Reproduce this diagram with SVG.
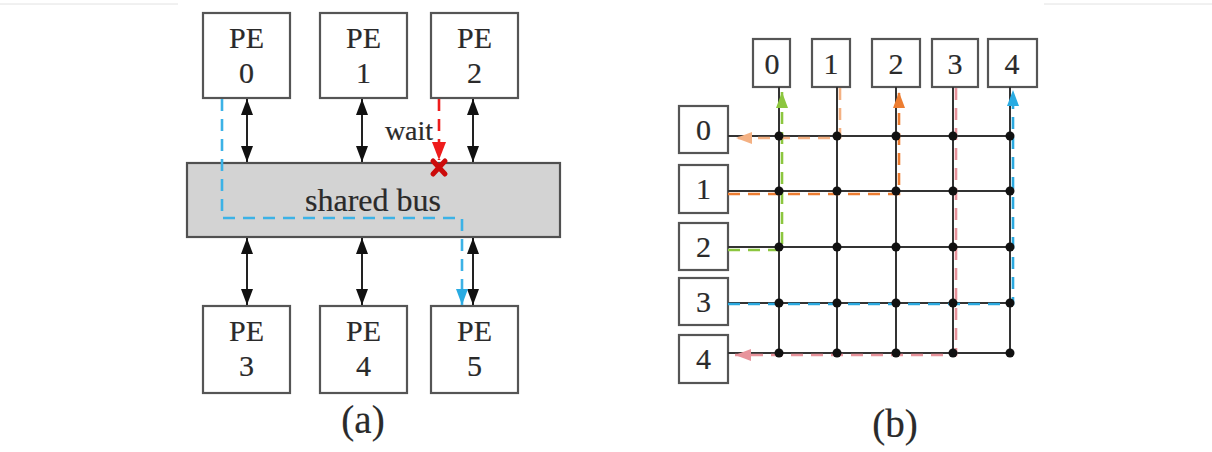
<svg xmlns="http://www.w3.org/2000/svg" width="1212" height="452" viewBox="0 0 1212 452">
  <style>
    .box { fill: #ffffff; stroke: #555555; stroke-width: 2.2; }
    .bus { fill: #d3d3d3; stroke: #505050; stroke-width: 2.2; }
    .lbl { font-family: "Liberation Serif", "Times New Roman", serif; fill: #2a2a2a; stroke: #2a2a2a; stroke-width: 0.2; text-anchor: middle; }
    .pe { font-size: 30px; }
    .num { font-size: 30px; }
    .cap { font-size: 39px; }
    .link { stroke: #222222; stroke-width: 2; fill: none; }
    .grid { stroke: #333333; stroke-width: 2; fill: none; }
    .dot { fill: #111111; }
    .route { fill: none; stroke-width: 2.6; stroke-dasharray: 12 8; }
  </style>
  <defs>
    <marker id="ah" viewBox="0 0 16 12" refX="16" refY="6" markerWidth="16" markerHeight="12" markerUnits="userSpaceOnUse" orient="auto-start-reverse">
      <path d="M0,0 L16,6 L0,12 Z" fill="#111111"/>
    </marker>
    <marker id="ah-blue" viewBox="0 0 16 12" refX="16" refY="6" markerWidth="16" markerHeight="12" markerUnits="userSpaceOnUse" orient="auto">
      <path d="M0,0 L16,6 L0,12 Z" fill="#29abe2"/>
    </marker>
    <marker id="ah-red" viewBox="0 0 18 14" refX="18" refY="7" markerWidth="18" markerHeight="14" markerUnits="userSpaceOnUse" orient="auto">
      <path d="M0,0 L18,7 L0,14 Z" fill="#ee1c1c"/>
    </marker>
    <marker id="ah-green" viewBox="0 0 16 12" refX="16" refY="6" markerWidth="16" markerHeight="12" markerUnits="userSpaceOnUse" orient="auto">
      <path d="M0,0 L16,6 L0,12 Z" fill="#8cc63f"/>
    </marker>
    <marker id="ah-orange" viewBox="0 0 16 12" refX="16" refY="6" markerWidth="16" markerHeight="12" markerUnits="userSpaceOnUse" orient="auto">
      <path d="M0,0 L16,6 L0,12 Z" fill="#ed7d31"/>
    </marker>
    <marker id="ah-peach" viewBox="0 0 16 12" refX="16" refY="6" markerWidth="16" markerHeight="12" markerUnits="userSpaceOnUse" orient="auto">
      <path d="M0,0 L16,6 L0,12 Z" fill="#f4b183"/>
    </marker>
    <marker id="ah-pink" viewBox="0 0 16 12" refX="16" refY="6" markerWidth="16" markerHeight="12" markerUnits="userSpaceOnUse" orient="auto">
      <path d="M0,0 L16,6 L0,12 Z" fill="#e8939c"/>
    </marker>
  </defs>

  <rect x="0" y="0" width="1212" height="452" fill="#ffffff"/>
  <!-- faint page rules at the top edge -->
  <line x1="0" y1="4" x2="178" y2="4" stroke="#e2e2e2" stroke-width="1"/>
  <line x1="1044" y1="4" x2="1212" y2="4" stroke="#e2e2e2" stroke-width="1"/>

  <!-- ===== (a) shared bus ===== -->
  <g id="bus">
    <rect class="bus" x="187" y="163" width="373" height="74"/>
    <text class="lbl" x="373" y="211" font-size="32">shared bus</text>
  </g>
  <g id="pe0"><rect class="box" x="203" y="13" width="87" height="85"/><text class="lbl pe" x="246.5" y="48">PE</text><text class="lbl pe" x="246.5" y="83">0</text></g>
  <g id="pe1"><rect class="box" x="320" y="13" width="87" height="85"/><text class="lbl pe" x="363.5" y="48">PE</text><text class="lbl pe" x="363.5" y="83">1</text></g>
  <g id="pe2"><rect class="box" x="431" y="13" width="87" height="85"/><text class="lbl pe" x="474.5" y="48">PE</text><text class="lbl pe" x="474.5" y="83">2</text></g>
  <g id="pe3"><rect class="box" x="203" y="306" width="87" height="87"/><text class="lbl pe" x="246.5" y="341">PE</text><text class="lbl pe" x="246.5" y="376">3</text></g>
  <g id="pe4"><rect class="box" x="320" y="306" width="87" height="87"/><text class="lbl pe" x="363.5" y="341">PE</text><text class="lbl pe" x="363.5" y="376">4</text></g>
  <g id="pe5"><rect class="box" x="431" y="306" width="87" height="87"/><text class="lbl pe" x="474.5" y="341">PE</text><text class="lbl pe" x="474.5" y="376">5</text></g>

  <g id="bus-connectors">
    <line class="link" x1="247" y1="99" x2="247" y2="162" marker-start="url(#ah)" marker-end="url(#ah)"/>
    <line class="link" x1="362" y1="99" x2="362" y2="162" marker-start="url(#ah)" marker-end="url(#ah)"/>
    <line class="link" x1="473" y1="99" x2="473" y2="162" marker-start="url(#ah)" marker-end="url(#ah)"/>
    <line class="link" x1="247" y1="238" x2="247" y2="305" marker-start="url(#ah)" marker-end="url(#ah)"/>
    <line class="link" x1="362" y1="238" x2="362" y2="305" marker-start="url(#ah)" marker-end="url(#ah)"/>
    <line class="link" x1="473" y1="238" x2="473" y2="305" marker-start="url(#ah)" marker-end="url(#ah)"/>
    <!-- PE0 to PE5 transfer through the bus -->
    <path class="route" stroke="#3cb2e6" d="M222,99 V218 H462 V305" marker-end="url(#ah-blue)"/>
    <!-- PE2 request blocked -->
    <path class="route" stroke="#ee1c1c" stroke-dasharray="10 7" d="M439,99 V160" marker-end="url(#ah-red)"/>
    <text class="lbl" x="409" y="140" font-size="28">wait</text>
    <g stroke="#cc0b0b" stroke-width="5" stroke-linecap="round">
      <line x1="433" y1="161" x2="445" y2="174"/>
      <line x1="445" y1="161" x2="433" y2="174"/>
    </g>
  </g>
  <text class="lbl cap" x="363" y="433">(a)</text>

  <!-- ===== (b) crossbar ===== -->
  <g id="col0"><rect class="box" x="753" y="39" width="37" height="48"/><text class="lbl num" x="772" y="74">0</text></g>
  <g id="col1"><rect class="box" x="812" y="39" width="38" height="48"/><text class="lbl num" x="831" y="74">1</text></g>
  <g id="col2"><rect class="box" x="872" y="39" width="48" height="48"/><text class="lbl num" x="896" y="74">2</text></g>
  <g id="col3"><rect class="box" x="932" y="39" width="46" height="48"/><text class="lbl num" x="955" y="74">3</text></g>
  <g id="col4"><rect class="box" x="988" y="39" width="49" height="48"/><text class="lbl num" x="1012" y="74">4</text></g>
  <g id="row0"><rect class="box" x="679" y="106" width="49" height="47"/><text class="lbl num" x="703.5" y="140">0</text></g>
  <g id="row1"><rect class="box" x="679" y="165" width="49" height="48"/><text class="lbl num" x="703.5" y="199">1</text></g>
  <g id="row2"><rect class="box" x="679" y="223" width="49" height="47"/><text class="lbl num" x="703.5" y="257">2</text></g>
  <g id="row3"><rect class="box" x="679" y="278" width="49" height="47"/><text class="lbl num" x="703.5" y="312">3</text></g>
  <g id="row4"><rect class="box" x="679" y="335" width="49" height="48"/><text class="lbl num" x="703.5" y="369">4</text></g>

  <g id="crossbar-connectors">
    <!-- grid wires -->
    <path class="grid" d="M728,136 H1010 M728,191 H1010 M728,247 H1010 M728,303 H1010 M728,353 H1010"/>
    <path class="grid" d="M779,87 V353 M837,87 V353 M896,87 V353 M953,87 V353 M1010,87 V353"/>

    <!-- routes through the crossbar -->
    <path class="route" stroke="#8cc63f" d="M728,250 H782 V92" marker-end="url(#ah-green)"/>
    <path class="route" stroke="#f4b183" d="M840,88 V138 H736" marker-end="url(#ah-peach)"/>
    <path class="route" stroke="#ed7d31" d="M728,194 H899 V92" marker-end="url(#ah-orange)"/>
    <path class="route" stroke="#2aa9e0" d="M728,304 H1013 V90" marker-end="url(#ah-blue)"/>
    <path class="route" stroke="#e8939c" d="M956,88 V355 H735" marker-end="url(#ah-pink)"/>

    <!-- crosspoints -->
    <g class="dot">
      <circle cx="779" cy="136" r="4.5"/><circle cx="837" cy="136" r="4.5"/><circle cx="896" cy="136" r="4.5"/><circle cx="953" cy="136" r="4.5"/><circle cx="1010" cy="136" r="4.5"/>
      <circle cx="779" cy="191" r="4.5"/><circle cx="837" cy="191" r="4.5"/><circle cx="896" cy="191" r="4.5"/><circle cx="953" cy="191" r="4.5"/><circle cx="1010" cy="191" r="4.5"/>
      <circle cx="779" cy="247" r="4.5"/><circle cx="837" cy="247" r="4.5"/><circle cx="896" cy="247" r="4.5"/><circle cx="953" cy="247" r="4.5"/><circle cx="1010" cy="247" r="4.5"/>
      <circle cx="779" cy="303" r="4.5"/><circle cx="837" cy="303" r="4.5"/><circle cx="896" cy="303" r="4.5"/><circle cx="953" cy="303" r="4.5"/><circle cx="1010" cy="303" r="4.5"/>
      <circle cx="779" cy="353" r="4.5"/><circle cx="837" cy="353" r="4.5"/><circle cx="896" cy="353" r="4.5"/><circle cx="953" cy="353" r="4.5"/><circle cx="1010" cy="353" r="4.5"/>
    </g>
  </g>
  <text class="lbl cap" x="895" y="437">(b)</text>
</svg>
